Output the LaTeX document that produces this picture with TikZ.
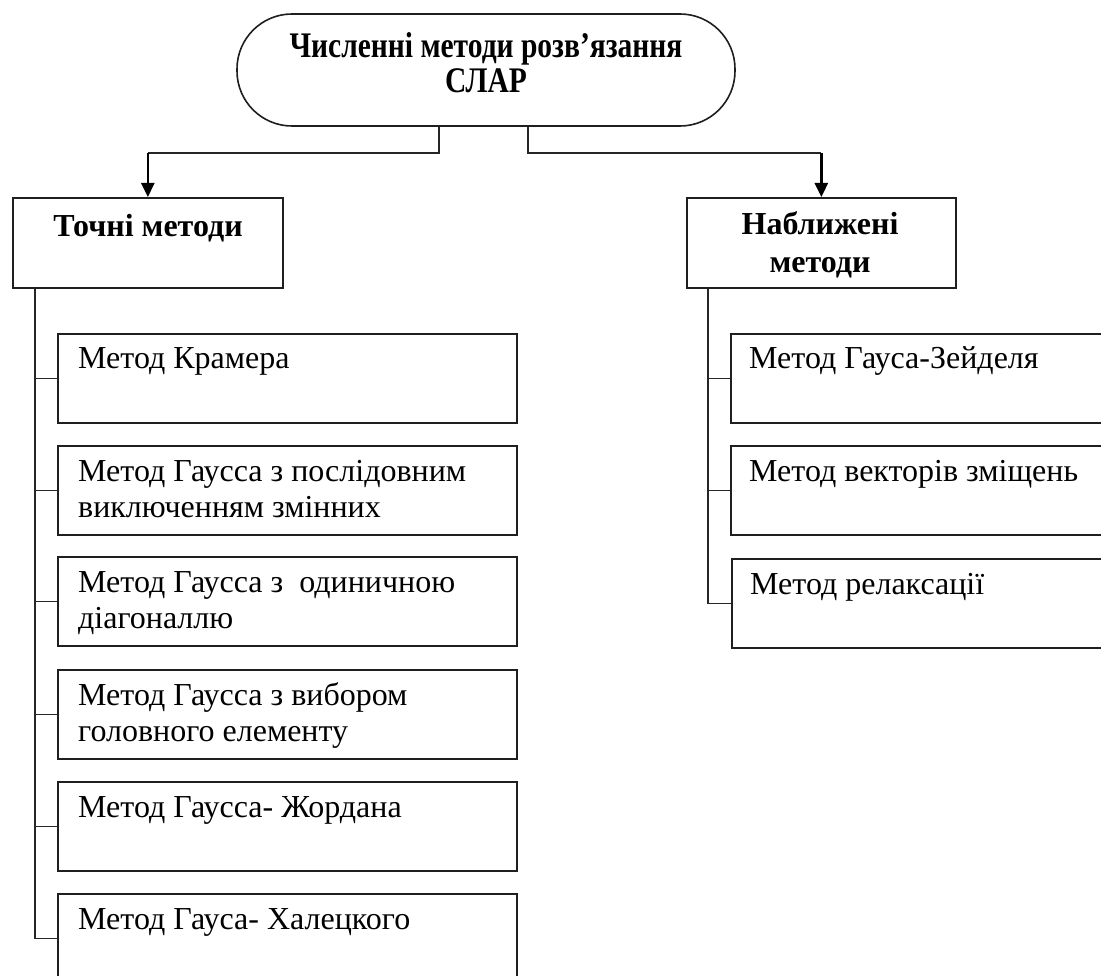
\documentclass[tikz,border=0pt]{standalone}
\usepackage{fontspec}
\setmainfont{Liberation Serif}
\newfontfamily\titlefont[FakeStretch=0.82]{Liberation Serif}
\usetikzlibrary{arrows.meta,calc}
\begin{document}
\begin{tikzpicture}[x=1pt,y=-1pt,
 frame/.style={draw=black!88,line width=1.7pt,inner sep=0pt,anchor=north west},
 lbox/.style={frame,minimum width=459pt,minimum height=89pt},
 rbox/.style={frame,minimum width=420pt,minimum height=89pt},
 hbox/.style={frame,minimum height=90pt},
 item/.style={anchor=base west,inner sep=0pt,font=\fontsize{32}{36}\selectfont},
 head/.style={anchor=base,inner sep=0pt,font=\fontsize{32}{38}\selectfont\bfseries},
 conn/.style={draw=black!85,line width=1.6pt},
 arr/.style={draw=black,line width=2.6pt,-{Triangle[length=14pt,width=13pt]}}]
\useasboundingbox (0,0) rectangle (1101,976);
\fill[white] (0,0) rectangle (1101,976);
\clip (0,0) rectangle (1101,976);

% root
\node[draw=black!88,line width=1.6pt,rounded corners=55pt,minimum width=498pt,minimum height=112pt,inner sep=0pt] (root) at (486,70) {};
\node[anchor=base,inner sep=0pt,font=\titlefont\bfseries\fontsize{36}{35}\selectfont] (rt) at (486,58) {\parbox[t]{480pt}{\centering Численні методи розв’язання\\ СЛАР}};

% heads
\node[hbox,minimum width=270pt] (T) at (12,197) {};
\node[head] (Tt) at (148,237) {Точні методи};
\node[hbox,minimum width=269pt] (N) at (686,197) {};
\node[head] (Nt) at (820,235) {\parbox[t]{260pt}{\centering Наближені\\ методи}};

% left boxes
\node[lbox] (L1) at (57,333) {};
\node[item] (L1t) at ($(L1.north west)+(21,36)$) {Метод Крамера};
\node[lbox] (L2) at (57,445) {};
\node[item] (L2t) at ($(L2.north west)+(21,36)$) {\parbox[t]{440pt}{Метод Гаусса з послідовним\\ виключенням змінних}};
\node[lbox] (L3) at (57,556) {};
\node[item] (L3t) at ($(L3.north west)+(21,36)$) {\parbox[t]{440pt}{Метод Гаусса з\ \ одиничною\\ діагоналлю}};
\node[lbox] (L4) at (57,669) {};
\node[item] (L4t) at ($(L4.north west)+(21,36)$) {\parbox[t]{440pt}{Метод Гаусса з вибором\\ головного елементу}};
\node[lbox] (L5) at (57,781) {};
\node[item] (L5t) at ($(L5.north west)+(21,36)$) {Метод Гаусса- Жордана};
\node[lbox] (L6) at (57,893) {};
\node[item] (L6t) at ($(L6.north west)+(21,36)$) {Метод Гауса- Халецкого};

% right boxes
\node[rbox] (R1) at (730,333) {};
\node[item] (R1t) at ($(R1.north west)+(19,36)$) {Метод Гауса-Зейделя};
\node[rbox] (R2) at (730,445) {};
\node[item] (R2t) at ($(R2.north west)+(19,36)$) {Метод векторів зміщень};
\node[rbox] (R3) at (731,558) {};
\node[item] (R3t) at ($(R3.north west)+(19,36)$) {Метод релаксації};

% connectors from root
\coordinate (lev) at (0,153);
\coordinate (rl) at ($(root.south)+(-47,0)$);
\coordinate (rr) at ($(root.south)+(42,0)$);
\draw[conn] (rl) |- (T.north |- lev);
\draw[arr] (T.north |- lev) -- (T.north);
\draw[conn] (rr) |- (N.north |- lev);
\draw[arr] (N.north |- lev) -- (N.north);

% left trunk
\coordinate (tl) at ($(T.south west)+(23,0)$);
\draw[conn] (tl) |- (L6.west);
\foreach \i in {1,...,5} {\draw[conn] (L\i.west) -- (L\i.west -| tl);}

% right trunk
\coordinate (tr) at ($(N.south west)+(22,0)$);
\draw[conn] (tr) |- (R3.west);
\foreach \i in {1,2} {\draw[conn] (R\i.west) -- (R\i.west -| tr);}
\end{tikzpicture}
\end{document}
